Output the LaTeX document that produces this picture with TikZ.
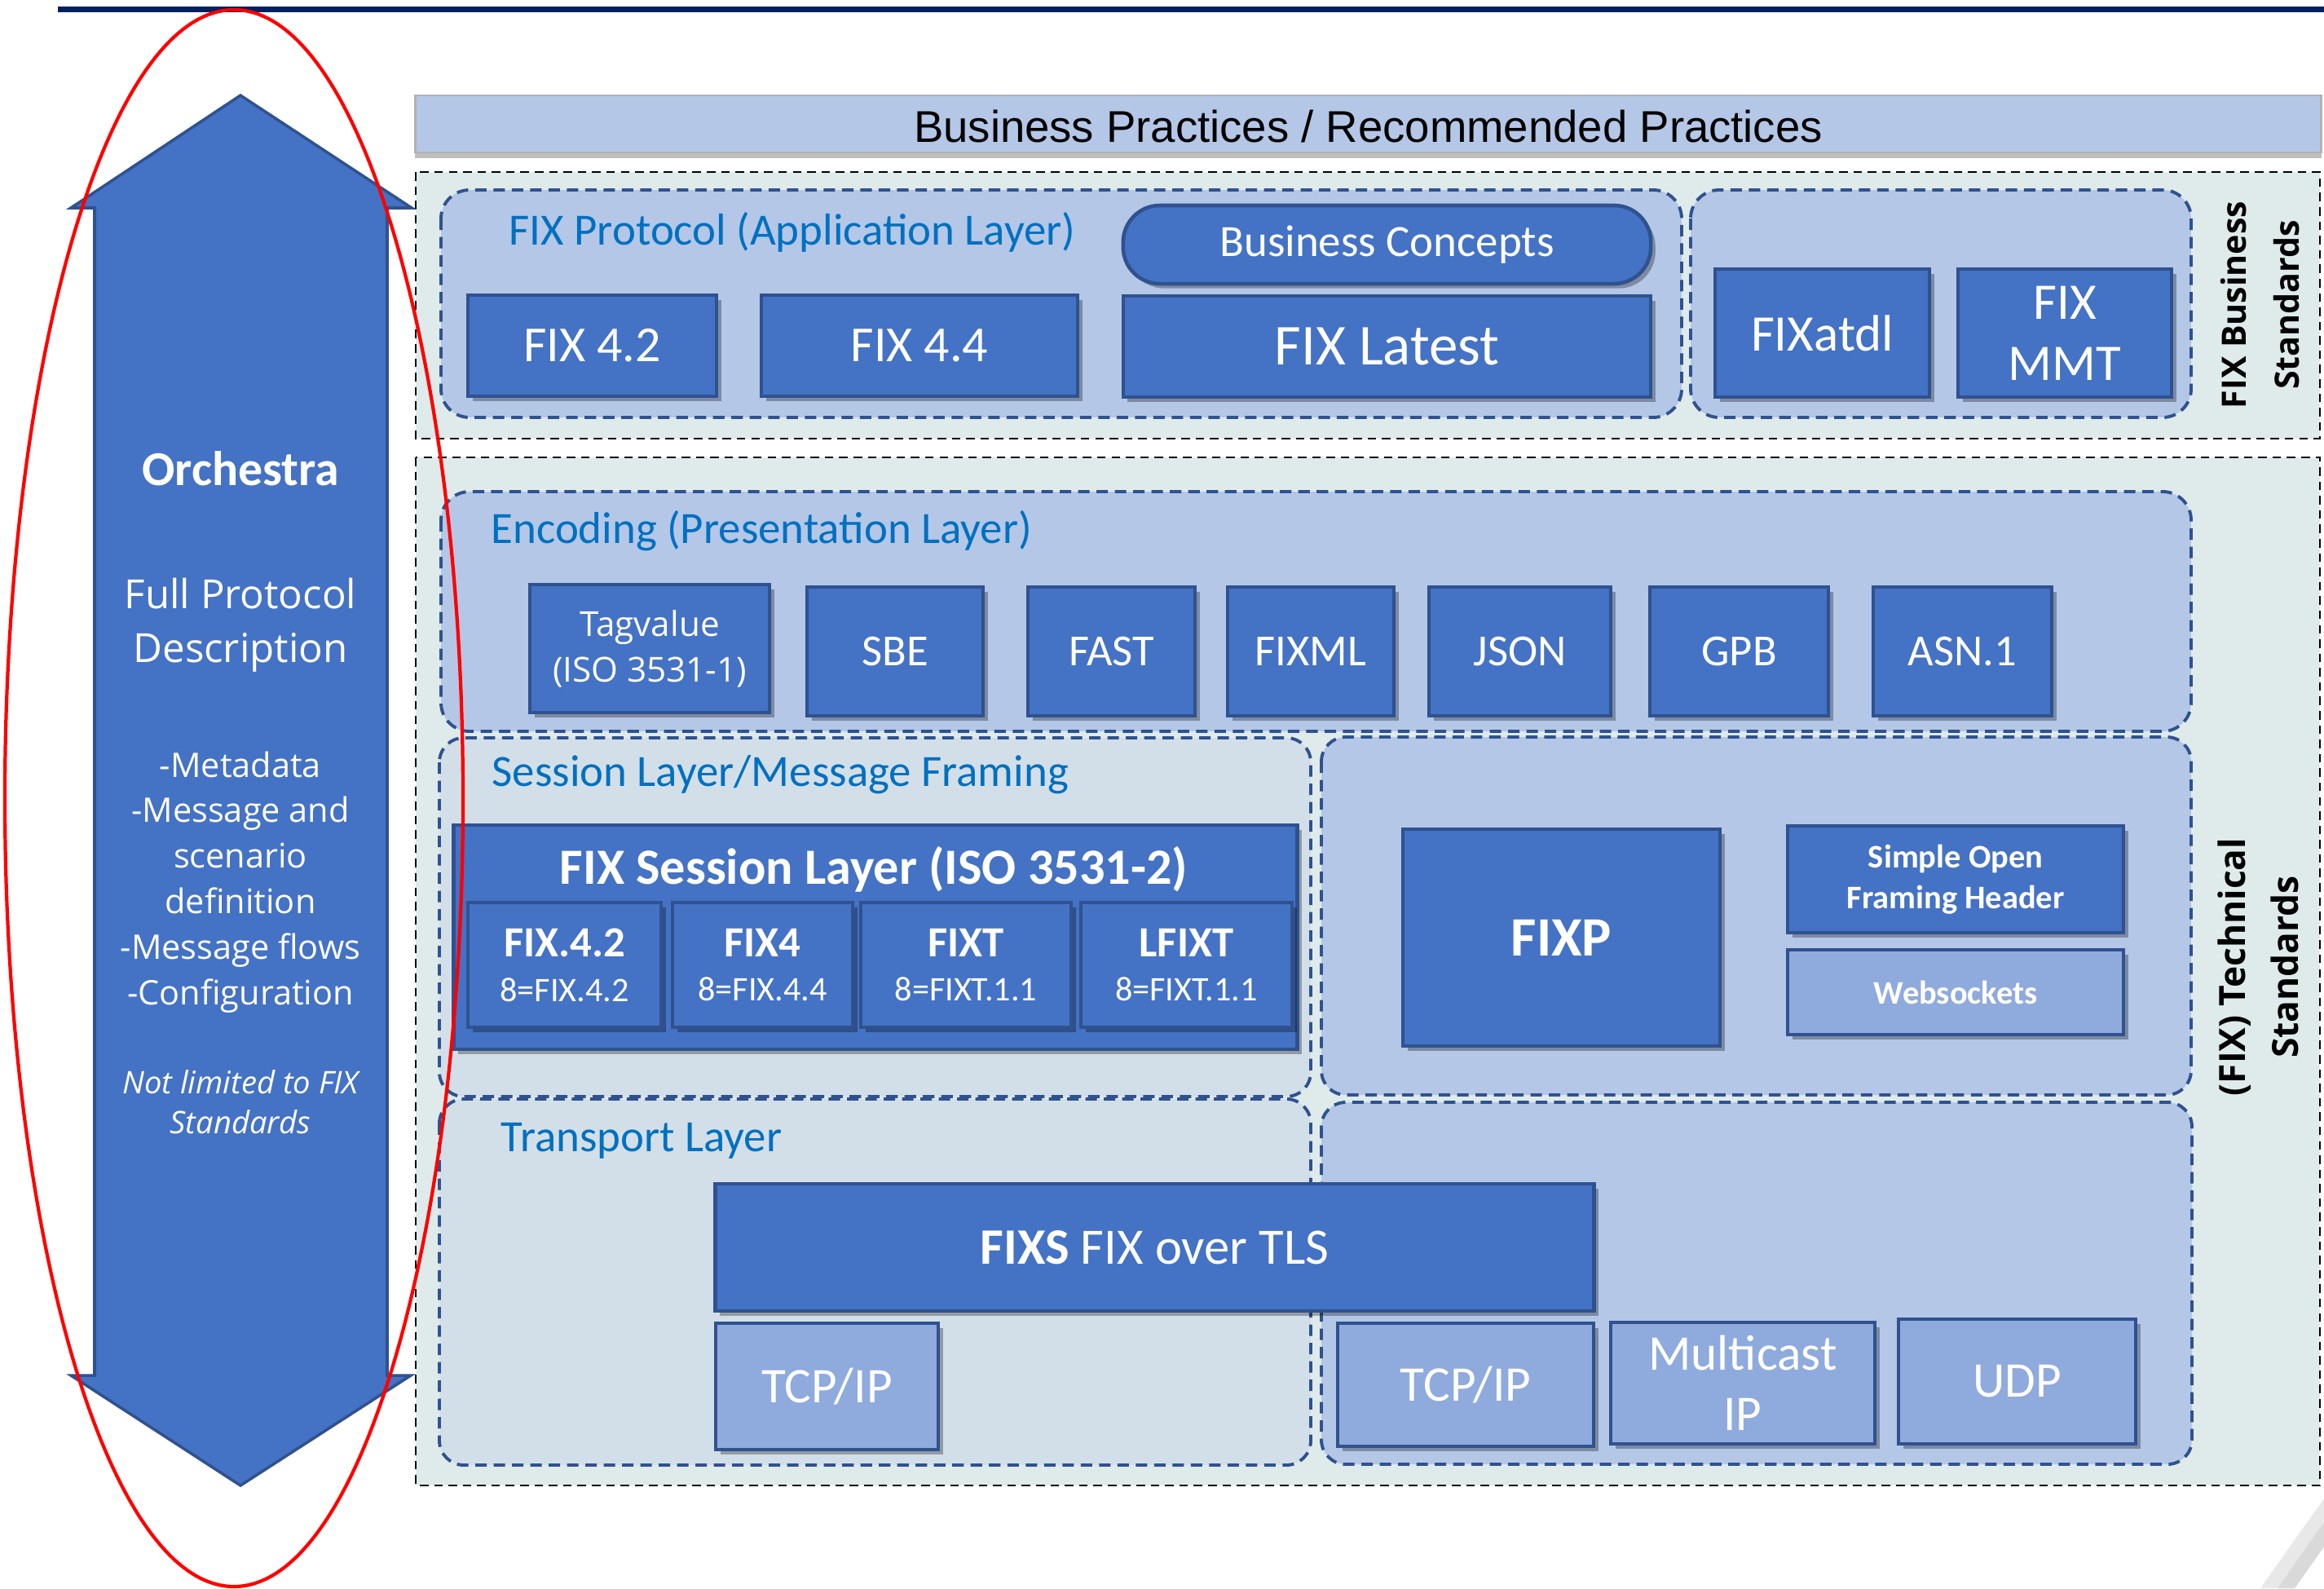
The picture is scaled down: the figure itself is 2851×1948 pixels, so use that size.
\documentclass[tikz,border=0pt]{standalone}
\usepackage{fontspec}
\setmainfont{Carlito}
\newfontfamily\osans{Open Sans}
\newfontfamily\lsans{Liberation Sans}
\usetikzlibrary{shadows}

\definecolor{boxblue}{HTML}{4472C4}
\definecolor{boxedge}{HTML}{2F528F}
\definecolor{lightbox}{HTML}{8FAADC}
\definecolor{layerfill}{HTML}{B4C7E7}
\definecolor{groupfill}{HTML}{DFEBEB}
\definecolor{sessfill}{HTML}{D3DFE8}
\definecolor{labelblue}{HTML}{0070C0}
\definecolor{navy}{HTML}{002060}

\tikzset{
  stdbox/.style={draw=boxedge, fill=boxblue, line width=1.3pt, text=white, align=center, inner sep=0pt,
    drop shadow={shadow xshift=1.6pt, shadow yshift=-1.6pt, opacity=0.3, fill=black}},
  litebox/.style={stdbox, fill=lightbox},
  bizbar/.style={draw=black!30, fill=layerfill, line width=0.8pt, inner sep=0pt,
    font=\lsans\fontsize{15.5}{18}\selectfont,
    drop shadow={shadow xshift=0pt, shadow yshift=-2pt, opacity=0.25, fill=black}},
  layer/.style={draw=boxedge, fill=layerfill, line width=1.1pt, dash pattern=on 4pt off 2.4pt, rounded corners=0.35cm},
  sesslayer/.style={layer, fill=sessfill},
  group/.style={draw=black, fill=groupfill, line width=0.7pt, dash pattern=on 3pt off 2pt},
  layerlabel/.style={text=labelblue, font=\fontsize{15.6}{18}\selectfont, anchor=base west, inner sep=0pt},
  sidelabel/.style={font=\osans\bfseries\fontsize{11.7}{18.5}\selectfont, rotate=90, align=center, inner sep=0pt},
  orchtext/.style={text=white, align=center, inner sep=0pt},
}

\begin{document}
\begin{tikzpicture}[x=0.01cm,y=0.01cm,yscale=-1]
  \useasboundingbox (0,0) rectangle (2851,1948);

  %Straight Lines: top rule
  \draw[navy, line width=2pt] (71,11.5) -- (2851,11.5);

  %Shape: corner mark
  \fill[black!9] (2773,1948) -- (2851,1838) -- (2851,1897) -- (2815,1948) -- cycle;
  \fill[black!15] (2794,1948) -- (2851,1867) -- (2851,1897) -- (2815,1948) -- cycle;

  % Text Node: business practices
  \node[bizbar, minimum width=23.37cm, minimum height=0.70cm, text height=0.46cm] (bizprac) at (1678.5,152) {Business Practices / Recommended Practices};

  %Shape: groups
  \draw[group] (510,211) rectangle (2846,538);
  \draw[group] (510,561) rectangle (2846,1822);

  %Shape: layers
  \draw[layer] (541,233) rectangle (2063,512);
  \draw[layer] (2074,233) rectangle (2688,512);
  \draw[layer] (541,603) rectangle (2688,897);
  \draw[sesslayer, rounded corners=0.3cm] (539,905) rectangle (1608,1345);
  \draw[layer, rounded corners=0.3cm] (1621,904) rectangle (2688,1343);
  \draw[sesslayer, rounded corners=0.3cm] (539,1348) rectangle (1608,1797);
  \draw[layer, rounded corners=0.3cm] (1621,1352) rectangle (2689,1796);

  % Text Node: layer labels
  \node[layerlabel] (applbl) at (624,300) {FIX Protocol (Application Layer)};
  \node[layerlabel] (enclbl) at (602,666) {Encoding (Presentation Layer)};
  \node[layerlabel] (sesslbl) at (603,964) {Session Layer/Message Framing};
  \node[layerlabel] (translbl) at (614,1412) {Transport Layer};

  % Application layer
  \node[stdbox, rounded corners=0.45cm, minimum width=6.47cm, minimum height=0.96cm, font=\fontsize{15.6}{18}\selectfont] (busconc) at (1701.5,300) {Business Concepts};
  \node[stdbox, minimum width=3.05cm, minimum height=1.24cm, font=\fontsize{17.6}{20}\selectfont] (fix42) at (726.5,424) {FIX 4.2};
  \node[stdbox, minimum width=3.88cm, minimum height=1.24cm, font=\fontsize{17.6}{20}\selectfont] (fix44) at (1128,424) {FIX 4.4};
  \node[stdbox, minimum width=6.47cm, minimum height=1.24cm, font=\fontsize{20.2}{22}\selectfont] (fixlatest) at (1701.5,425) {FIX Latest};
  \node[stdbox, minimum width=2.63cm, minimum height=1.57cm, font=\fontsize{17.9}{21.3}\selectfont] (fixatdl) at (2235.5,408.5) {FIXatdl};
  \node[stdbox, minimum width=2.62cm, minimum height=1.57cm, font=\fontsize{17.9}{21.3}\selectfont] (fixmmt) at (2533,408.5) {FIX\\MMT};

  % Text Node: side labels
  \node[sidelabel] (bizstd) at (2773,374) {FIX Business\\Standards};
  \node[sidelabel, font=\osans\bfseries\fontsize{12.6}{18.5}\selectfont] (techstd) at (2770,1186) {(FIX) Technical\\Standards};

  % Encoding layer
  \node[stdbox, minimum width=2.94cm, minimum height=1.57cm, font=\osans\fontsize{12}{16}\selectfont] (tagvalue) at (797,795.5) {Tagvalue\\(ISO 3531-1)};
  \foreach \name/\cx/\w/\txt in {sbe/1098/2.16/SBE, fast/1363.5/2.05/FAST, fixml/1608/2.04/FIXML,
      json/1864.5/2.23/JSON, gpb/2133.5/2.19/GPB, asn/2407.5/2.19/ASN.1}
    \node[stdbox, minimum width=\w cm, minimum height=1.58cm, font=\fontsize{15.5}{18}\selectfont] (\name) at (\cx,799) {\txt};

  % Session layer
  \node[stdbox, minimum width=10.34cm, minimum height=2.75cm] (fixsess) at (1074,1149.5) {};
  \node[text=white, inner sep=0pt, font=\bfseries\fontsize{17.7}{20}\selectfont] (sesstitle) at (1072,1066) {FIX Session Layer (ISO 3531-2)};
  \foreach \name/\cx/\w/\top/\sub in {fixfour/692.5/2.37/FIX.4.2/8=FIX.4.2, fixfourb/935.5/2.21/FIX4/8=FIX.4.4,
      fixt/1185/2.58/FIXT/8=FIXT.1.1, lfixt/1455.5/2.59/LFIXT/8=FIXT.1.1}
    \node[stdbox, minimum width=\w cm, minimum height=1.53cm, font=\fontsize{12}{15.6}\selectfont] (\name) at (\cx,1183.5)
      {{\bfseries\fontsize{15}{15.6}\selectfont \top}\\\sub};
  \node[stdbox, minimum width=3.89cm, minimum height=2.66cm, font=\bfseries\fontsize{19.4}{22}\selectfont] (fixp) at (1915.5,1150) {FIXP};
  \node[stdbox, minimum width=4.12cm, minimum height=1.31cm, font=\bfseries\fontsize{11.5}{14.2}\selectfont] (sofh) at (2399,1078.5) {Simple Open\\Framing Header};
  \node[litebox, minimum width=4.12cm, minimum height=1.04cm, font=\bfseries\fontsize{11.5}{14.2}\selectfont] (websock) at (2399,1217) {Websockets};

  % Transport layer
  \node[stdbox, minimum width=10.77cm, minimum height=1.56cm, font=\fontsize{17.8}{20}\selectfont] (fixs) at (1416.5,1530) {\textbf{FIXS} FIX over TLS};
  \node[litebox, minimum width=2.73cm, minimum height=1.55cm, font=\fontsize{17.4}{20}\selectfont] (tcpleft) at (1014.5,1700.5) {TCP/IP};
  \node[litebox, minimum width=3.14cm, minimum height=1.51cm, font=\fontsize{17.4}{20}\selectfont] (tcpright) at (1798,1698.5) {TCP/IP};
  \node[litebox, minimum width=3.24cm, minimum height=1.49cm, font=\fontsize{17.4}{21}\selectfont] (mcast) at (2138,1696.5) {Multicast\\IP};
  \node[litebox, minimum width=2.91cm, minimum height=1.53cm, font=\fontsize{17.4}{20}\selectfont] (udp) at (2474.5,1694.5) {UDP};

  %Shape: orchestra double arrow
  \draw[fill=boxblue, draw=boxedge, line width=1pt] (295,117) -- (505,255) -- (475,255) -- (475,1687) -- (504,1687)
    -- (295,1822) -- (87,1687) -- (116,1687) -- (116,255) -- (87,255) -- cycle;

  % Text Node: orchestra texts
  \node[orchtext, font=\bfseries\fontsize{17}{20}\selectfont] (orch) at (295,575) {Orchestra};
  \node[orchtext, font=\osans\fontsize{14}{18.8}\selectfont] (fullproto) at (295,767) {Full Protocol\\Description};
  \node[orchtext, font=\osans\fontsize{11.8}{15.9}\selectfont] (features) at (295,1082) {-Metadata\\-Message and\\scenario\\definition\\-Message flows\\-Configuration};
  \node[orchtext, font=\osans\itshape\fontsize{10.85}{14}\selectfont] (notlimited) at (295,1352) {Not limited to FIX\\Standards};

  %Shape: red ellipse
  \draw[red, line width=1.2pt] (287,979) ellipse [x radius=281, y radius=967];
\end{tikzpicture}
\end{document}
